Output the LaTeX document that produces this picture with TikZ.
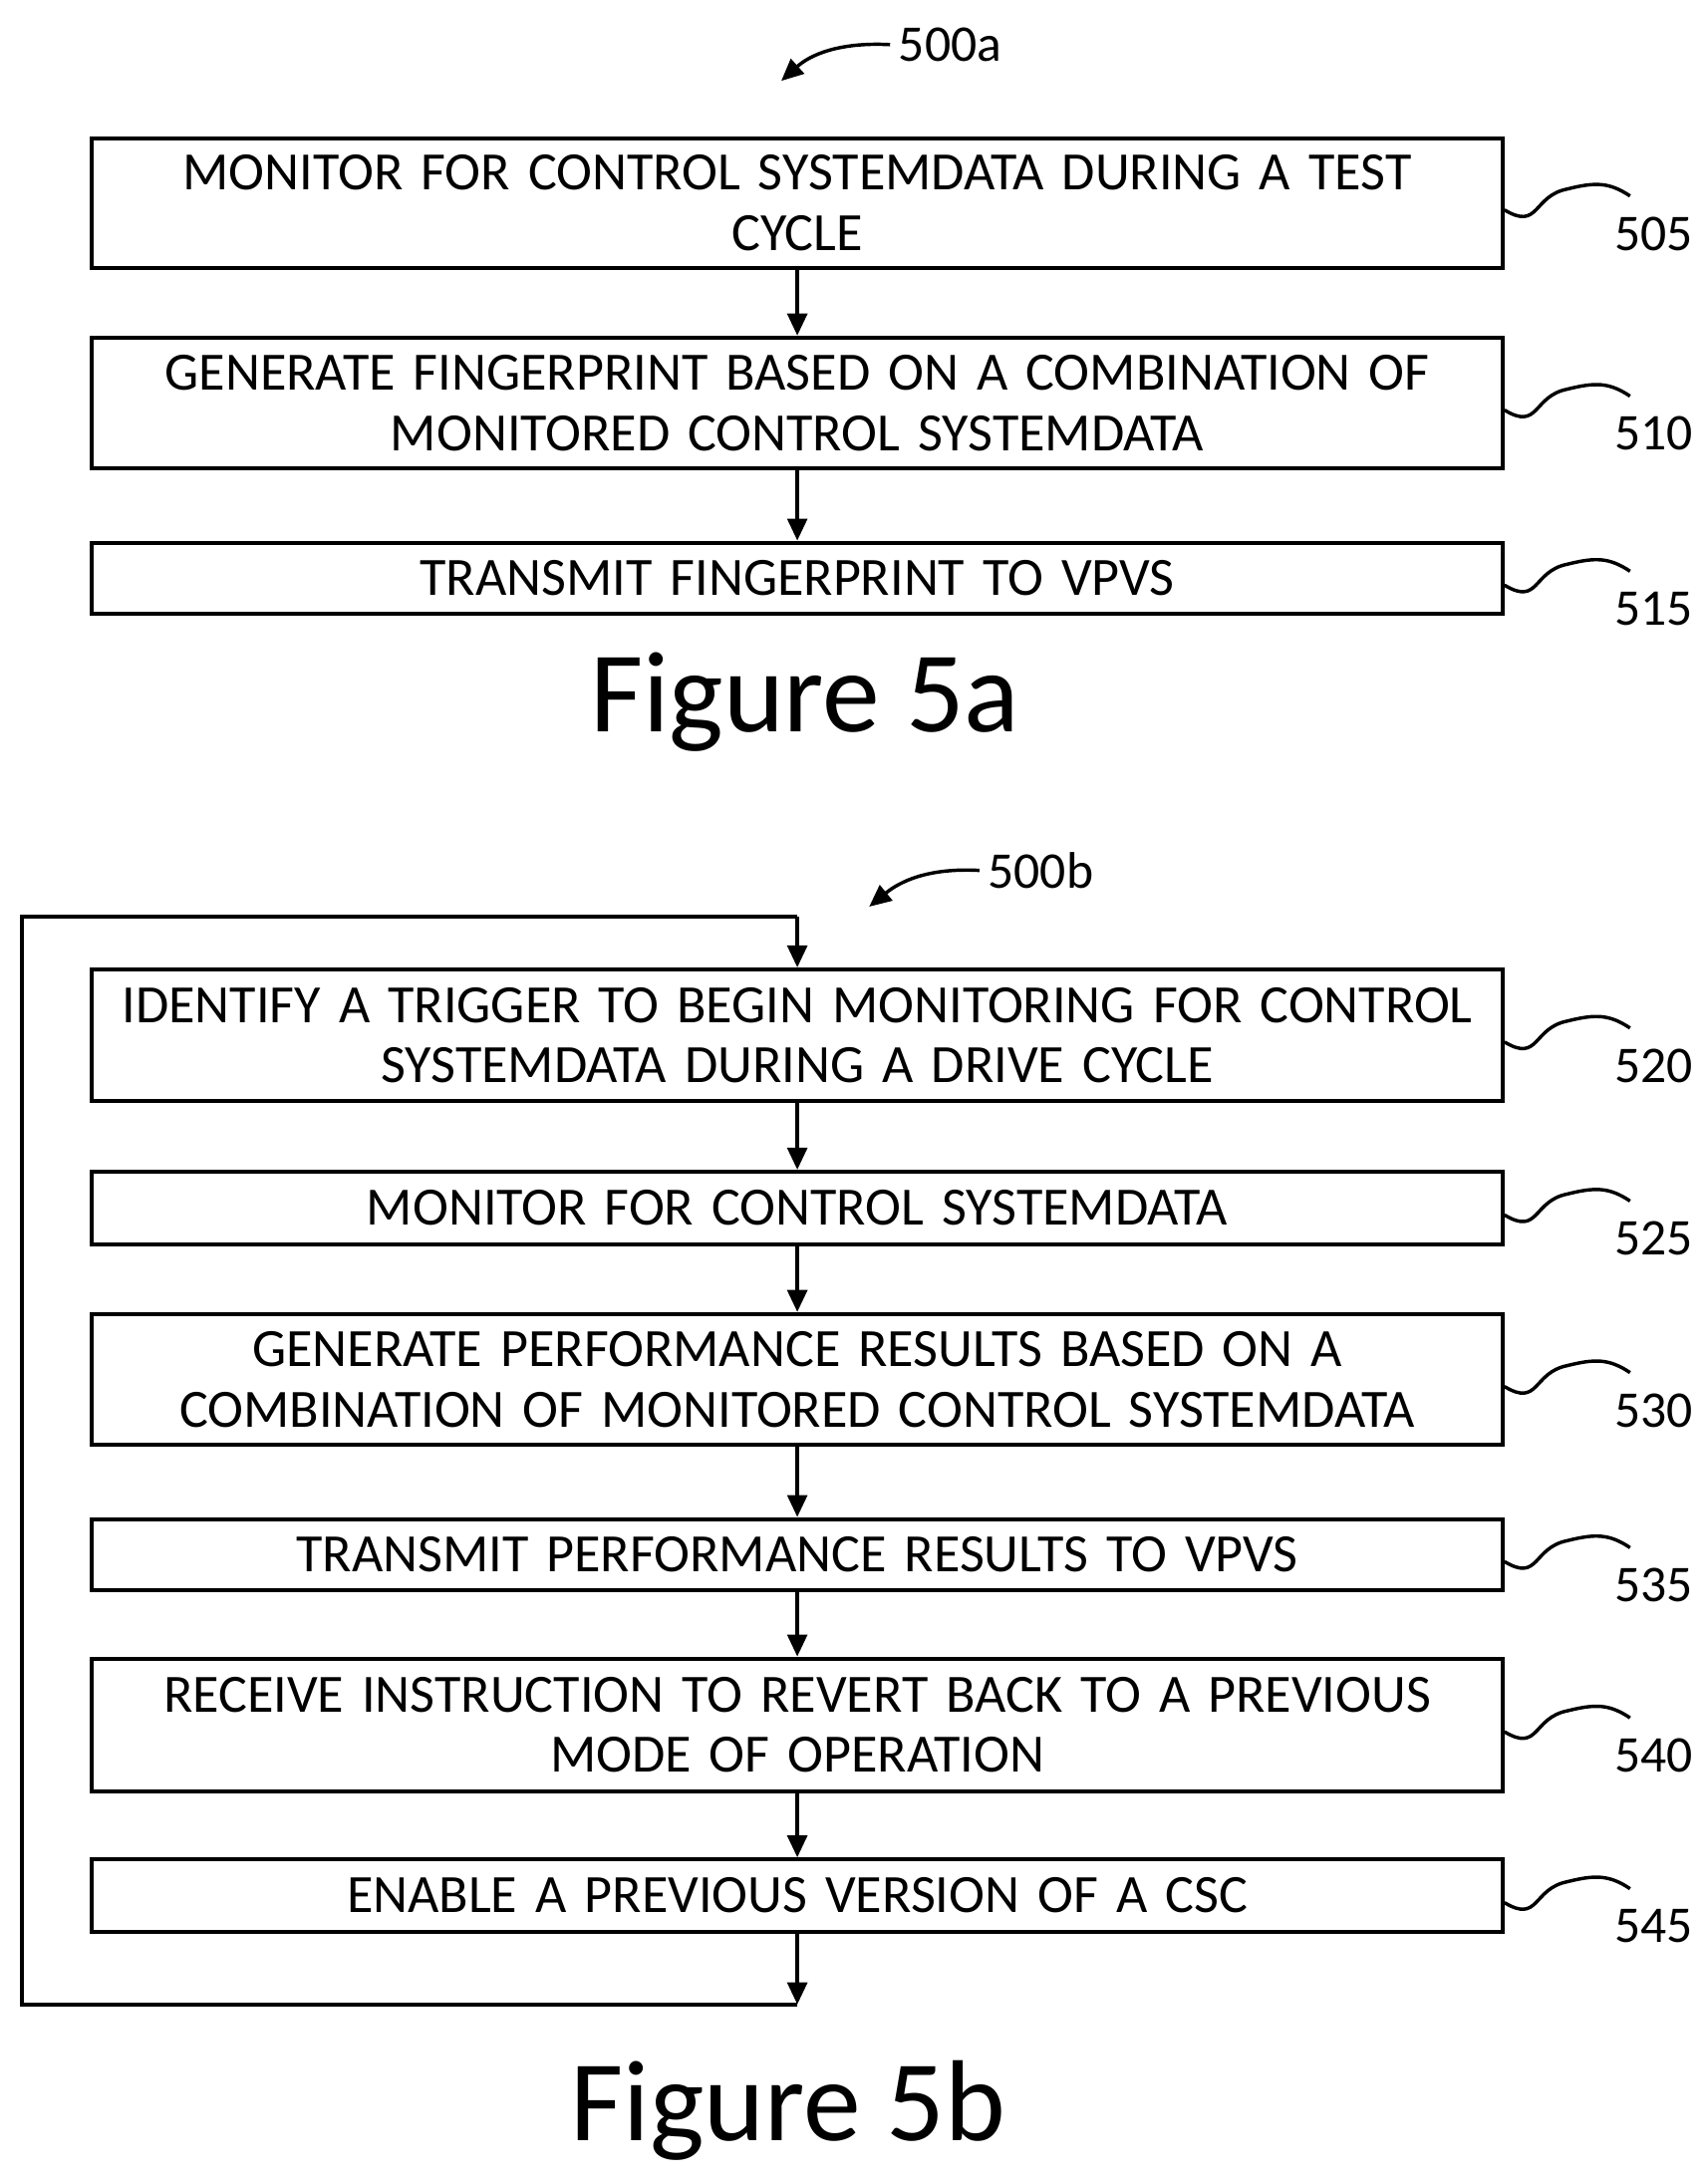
\documentclass[tikz,border=0pt]{standalone}
\usepackage{fontspec}
\setmainfont{Carlito}
\usetikzlibrary{arrows.meta}
\begin{document}
\begin{tikzpicture}[x=0.02cm,y=-0.02cm,
  box/.style={draw,line width=1.6pt,minimum width=1011*0.02cm,text width=990*0.02cm,inner sep=0pt,align=center,font=\fontsize{22}{24.5}\selectfont},
  arr/.style={line width=1.6pt,-{Triangle[length=9pt,width=8pt]}},
  lbl/.style={font=\fontsize{21}{25}\selectfont},
  fig/.style={font=\fontsize{47}{56}\selectfont}]
\useasboundingbox (0,0) rectangle (1224,1565);
\newcommand{\sq}[2]{\draw[line width=1.4pt] (#1.east) ++(0,5) .. controls +(25,15) and +(-25,5) .. ++(45,-15) .. controls +(20,-5) and +(-15,-10) .. ++(45,5);
\node[lbl] at ([xshift=107*0.02cm,yshift=-22*0.02cm]#1.east) {#2};}
\node[box,minimum height=93*0.02cm] (b505) at (571.5,145.5) {MONITOR FOR CONTROL SYSTEMDATA DURING A TEST\\CYCLE};
\node[box,minimum height=94*0.02cm] (b510) at (571.5,289) {GENERATE FINGERPRINT BASED ON A COMBINATION OF\\MONITORED CONTROL SYSTEMDATA};
\node[box,minimum height=51*0.02cm] (b515) at (571.5,414.5) {TRANSMIT FINGERPRINT TO VPVS};
\sq{b505}{505}\sq{b510}{510}\sq{b515}{515}
\draw[arr] (b505) -- (b510); \draw[arr] (b510) -- (b515);
\node[fig] (f5a) at (577,503) {Figure 5a};
\node[lbl,anchor=west] (l500a) at (638,32) {500a};
\draw[arr,line width=1.4pt] (l500a.west) .. controls (600,30) and (580,40) .. (560,58);
\node[box,minimum height=94*0.02cm] (b520) at (571.5,742) {IDENTIFY A TRIGGER TO BEGIN MONITORING FOR CONTROL\\SYSTEMDATA DURING A DRIVE CYCLE};
\node[box,minimum height=52*0.02cm] (b525) at (571.5,866) {MONITOR FOR CONTROL SYSTEMDATA};
\node[box,minimum height=94*0.02cm] (b530) at (571.5,989) {GENERATE PERFORMANCE RESULTS BASED ON A\\COMBINATION OF MONITORED CONTROL SYSTEMDATA};
\node[box,minimum height=51*0.02cm] (b535) at (571.5,1114.5) {TRANSMIT PERFORMANCE RESULTS TO VPVS};
\node[box,minimum height=95*0.02cm] (b540) at (571.5,1236.5) {RECEIVE INSTRUCTION TO REVERT BACK TO A PREVIOUS\\MODE OF OPERATION};
\node[box,minimum height=52*0.02cm] (b545) at (571.5,1359) {ENABLE A PREVIOUS VERSION OF A CSC};
\sq{b520}{520}\sq{b525}{525}\sq{b530}{530}\sq{b535}{535}\sq{b540}{540}\sq{b545}{545}
\draw[arr] (b520) -- (b525); \draw[arr] (b525) -- (b530); \draw[arr] (b530) -- (b535);
\draw[arr] (b535) -- (b540); \draw[arr] (b540) -- (b545);
\coordinate (c1) at (571.5,1437);
\coordinate (c2) at (16,1437);
\coordinate (c3) at (16,657);
\coordinate (c4) at (571.5,657);
\draw[arr] (b545) -- (c1);
\draw[line width=1.6pt] (c1) -- (c2) -- (c3) -- (c4);
\draw[arr] (c4) -- (b520);
\node[fig] (f5b) at (565,1513) {Figure 5b};
\node[lbl,anchor=west] (l500b) at (702,624) {500b};
\draw[arr,line width=1.4pt] (l500b.west) .. controls (665,622) and (645,632) .. (623,650);
\end{tikzpicture}
\end{document}
